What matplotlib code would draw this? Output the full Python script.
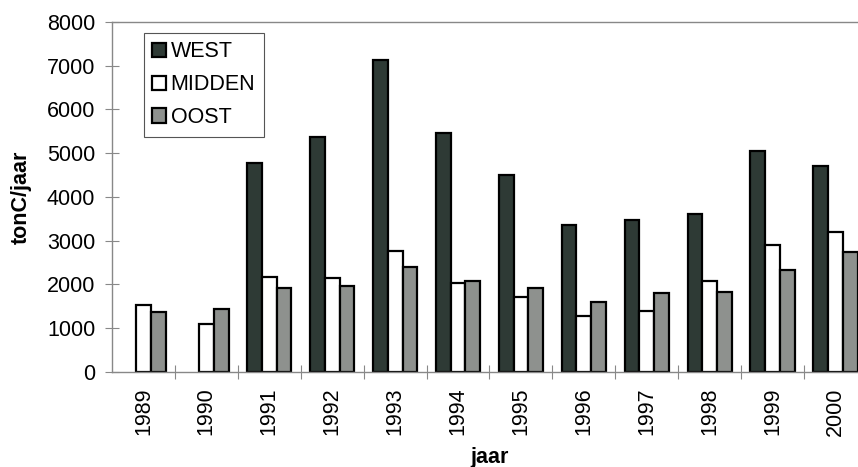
import matplotlib.pyplot as plt
import numpy as np

plt.rcParams['font.family'] = ['Liberation Sans', 'DejaVu Sans']

years = ['1989', '1990', '1991', '1992', '1993', '1994',
         '1995', '1996', '1997', '1998', '1999', '2000']
west = [np.nan, np.nan, 4770, 5360, 7120, 5470, 4500, 3350, 3470, 3600, 5040, 4700]
midden = [1530, 1090, 2180, 2140, 2770, 2030, 1720, 1280, 1400, 2070, 2900, 3200]
oost = [1370, 1450, 1920, 1960, 2390, 2070, 1910, 1600, 1800, 1820, 2320, 2740]

x = np.arange(len(years))
w = 0.235

fig = plt.figure(figsize=(8.58, 4.67), dpi=100)
ax = fig.add_axes([0.1305, 0.2034, 0.88, 0.7496])

ax.bar(x - w, west, w, color='#2e3a35', edgecolor='black', lw=1.6, label='WEST')
ax.bar(x, midden, w, color='white', edgecolor='black', lw=1.6, label='MIDDEN')
ax.bar(x + w, oost, w, color='#8e918e', edgecolor='black', lw=1.6, label='OOST')

ax.set_xlim(-0.5, len(years) - 0.5)
ax.set_ylim(0, 8000)
ax.set_yticks(np.arange(0, 8001, 1000))

# ticks between groups, labels at group centres
ax.set_xticks(np.arange(0.5, len(years) - 0.5, 1))
ax.set_xticklabels([])
ax.set_xticks(x, minor=True)
ax.set_xticklabels(years, minor=True, rotation=90)
ax.tick_params(axis='x', which='minor', length=0, pad=11, labelsize=15.5)
ax.tick_params(axis='x', which='major', direction='inout', length=10, color='#888888')
ax.tick_params(axis='y', direction='inout', length=10, color='#888888', pad=7, labelsize=15.5)

for s in ['top', 'left', 'bottom', 'right']:
    ax.spines[s].set_color('#888888')
    ax.spines[s].set_linewidth(1)

ax.set_ylabel('tonC/jaar', fontsize=15.5, fontweight='bold', labelpad=11)
ax.set_xlabel('jaar', fontsize=15.5, fontweight='bold', labelpad=8)

leg = ax.legend(loc='upper left', bbox_to_anchor=(0.042, 0.969), borderaxespad=0,
                fontsize=15.5, handlelength=0.65, handleheight=0.65, handletextpad=0.2,
                labelspacing=0.55, borderpad=0.4, fancybox=False,
                edgecolor='#555555', framealpha=1)
leg.get_frame().set_linewidth(0.8)

fig.savefig('out.png', dpi=100)
